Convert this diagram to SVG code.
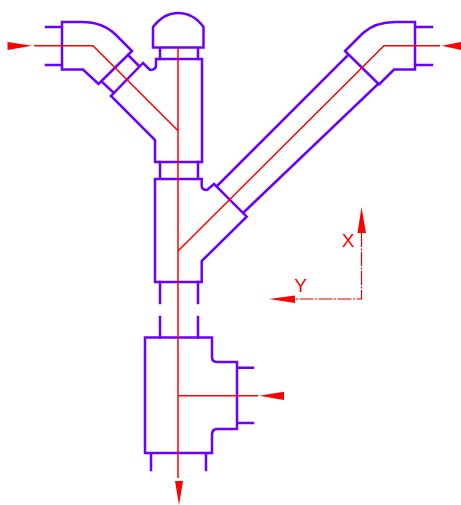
<svg xmlns="http://www.w3.org/2000/svg" width="461" height="505" viewBox="0 0 461 505">
<style>
.p{fill:none;stroke:#6a00ff;stroke-width:2.500;stroke-linejoin:miter;stroke-linecap:square}
.r{fill:none;stroke:#ff0000;stroke-width:1.500}
.a{fill:none;stroke:#e00000;stroke-width:1.200;stroke-dasharray:14 1.500 2 1.500}
.h{fill:#ff0000;stroke:none}
.t{fill:#ff0000;font-family:"Liberation Sans",Arial,sans-serif;font-size:19px;text-anchor:middle}
</style>
<rect width="461" height="505" fill="#ffffff"/>
<g id="elbow-left">
<path class="p" d="M46 27H62M46 65H62M62 22V69.5M62 22H82C98 22 108 27 116 35L132 51L98.500 84L83 69.500H62"/>
</g>
<g id="elbow-right">
<path class="p" d="M432 27H415M432 65H415M415 22V69.500M415 22H395C380 22 371 26 363 33L345 51L379 84.500L394 69.500H415"/>
</g>
<g id="cap">
<path class="p" d="M153 47.500V27C160 18 169 13 178 13C188 13 197 18 203.500 27V47.500ZM160 47.500V59M198 47.500V59"/>
</g>
<g id="wye-upper">
<path class="p" d="M128 55L139 66M102 82L114 93M143 63L111 96L155 140V162H202V59H156V65Q156 70 150 70L143 63"/>
</g>
<g id="wye-lower">
<path class="p" d="M160 162V179M198 162V179M348 55L217 186M378 84L243 213M214 184L246.700 216.700L201.700 261V282H155V179H201.700V186Q201.700 190 207 190L214 184"/>
</g>
<g id="pipe">
<path class="p" d="M160 282V303M198 282V303M160 317V337.500M198 317V337.500"/>
</g>
<g id="tee">
<path class="p" d="M145 337.500H212V357Q212 362 217 362H237V429H217Q212 429 212 435V453H145ZM237 367.700H253M237 423H253M151 453V470M206 453V470"/>
</g>
<g id="connectors">
<path class="r" d="M34 45.700H93L178 130.700M440 45.700H384L178 251M178 47.500V478M258 395.700H178"/>
<path class="a" d="M361.500 233V299H295"/>
<polygon class="h" points="7.500,42 7.500,50 32,45.700"/>
<polygon class="h" points="461,42 461,50 441.500,45.700"/>
<polygon class="h" points="284,391.700 284,400 259,395.700"/>
<polygon class="h" points="175,481 183,481 179,505"/>
<polygon class="h" points="357.500,233 366,233 361.500,207"/>
<polygon class="h" points="295,295.500 295,303 269,299"/>
</g>
<g id="axis-labels">
<text class="t" x="348" y="246.500">X</text>
<text class="t" x="300.700" y="292">Y</text>
</g>
</svg>
